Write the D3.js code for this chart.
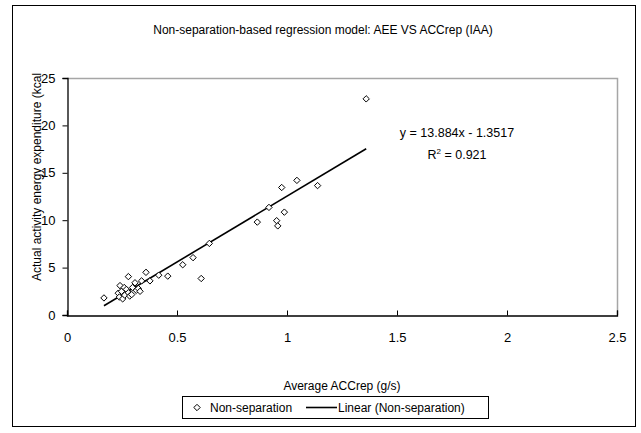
<!DOCTYPE html>
<html>
<head>
<meta charset="utf-8">
<script src="https://cdn.jsdelivr.net/npm/d3@7"></script>
<style>
  body { margin: 0; background: #fff; }
  svg { display: block; font-family: 'Liberation Sans', Arial, sans-serif; }
</style>
</head>
<body>
<svg id="chart" width="641" height="433"></svg>
<script>
'use strict';

// measured values (Average ACCrep g/s, Actual AEE kcal)
let accrep = [0.168, 0.233, 0.238, 0.241, 0.248, 0.253, 0.26, 0.262, 0.27, 0.279,
	0.279, 0.285, 0.294, 0.298, 0.309, 0.315, 0.324, 0.332, 0.339, 0.359,
	0.377, 0.417, 0.458, 0.526, 0.573, 0.61, 0.647, 0.865, 0.918, 0.953,
	0.958, 0.976, 0.988, 1.045, 1.139, 1.36];
let aee = [1.8, 2.3, 1.9, 3.1, 2.5, 1.7, 2.9, 2.1, 2.7, 4.05,
	2.35, 2.0, 2.15, 2.9, 3.4, 2.6, 2.8, 2.5, 3.6, 4.5,
	3.6, 4.2, 4.1, 5.3, 6.05, 3.85, 7.55, 9.8, 11.35, 9.95,
	9.4, 13.45, 10.85, 14.2, 13.65, 22.8];

let xTicks = [0, 0.5, 1, 1.5, 2, 2.5];
let yTicks = [0, 5, 10, 15, 20, 25];

// trendline coefficients as printed on the chart
let slope = 13.884;
let intercept = -1.3517;
let rSquared = 0.921;

let svg = d3.select('#chart');

let plot = {left: 67, top: 78, right: 617, bottom: 315};

let x = d3.scaleLinear().domain([0, 2.5]).range([plot.left, plot.right]);
let y = d3.scaleLinear().domain([0, 25]).range([plot.bottom, plot.top]);

// chart frame
svg.append('rect')
	.attr('x', 12.5).attr('y', 5.5)
	.attr('width', 623).attr('height', 421)
	.attr('fill', '#fff')
	.attr('stroke', '#000')
	.attr('stroke-width', 1);

svg.append('text')
	.attr('x', 323).attr('y', 34)
	.attr('text-anchor', 'middle')
	.attr('font-size', 12)
	.text('Non-separation-based regression model: AEE VS ACCrep (IAA)');

// plot area border (grey top & right)
svg.append('path')
	.attr('d', `M${plot.left},${plot.top + 0.5}H${plot.right + 0.5}V${plot.bottom}`)
	.attr('fill', 'none')
	.attr('stroke', '#a6a6a6')
	.attr('stroke-width', 1.5);

let xAxis = svg.append('g')
	.attr('transform', `translate(0,${plot.bottom + 0.5})`)
	.call(d3.axisBottom(x).tickValues(xTicks).tickSize(-5).tickPadding(17)
		.tickFormat(d3.format('')));

let yAxis = svg.append('g')
	.attr('transform', `translate(${plot.left + 0.5},0)`)
	.call(d3.axisLeft(y).tickValues(yTicks).tickSize(5).tickPadding(7));

[xAxis, yAxis].forEach(function(g) {
	g.select('.domain').attr('stroke', '#000').attr('stroke-width', 1.3);
	g.selectAll('.tick line').attr('stroke', '#000');
	g.selectAll('.tick text')
		.attr('font-family', "'Liberation Sans', Arial, sans-serif")
		.attr('font-size', 13)
		.attr('fill', '#000');
});

svg.append('text')
	.attr('x', 342).attr('y', 390)
	.attr('text-anchor', 'middle')
	.attr('font-size', 12)
	.text('Average ACCrep (g/s)');

svg.append('text')
	.attr('transform', 'translate(41,177) rotate(-90)')
	.attr('text-anchor', 'middle')
	.attr('font-size', 12)
	.text('Actual activity energy expenditure (kcal');

// linear trendline over the data range
let xs = d3.extent(accrep);
svg.append('line')
	.attr('x1', x(xs[0])).attr('y1', y(slope * xs[0] + intercept))
	.attr('x2', x(xs[1])).attr('y2', y(slope * xs[1] + intercept))
	.attr('stroke', '#000')
	.attr('stroke-width', 1.6);

let diamond = d3.symbol().type(d3.symbolDiamond2).size(26);

svg.append('g')
	.selectAll('path')
	.data(accrep.map((v, i) => [v, aee[i]]))
	.join('path')
	.attr('d', diamond)
	.attr('transform', d => `translate(${x(d[0])},${y(d[1])})`)
	.attr('fill', '#fff')
	.attr('stroke', '#000')
	.attr('stroke-width', 1);

// equation label
let eq = svg.append('g').attr('font-size', 12.5).attr('text-anchor', 'middle');
eq.append('text')
	.attr('x', 457).attr('y', 137)
	.text(`y = ${slope}x - ${Math.abs(intercept)}`);
let r2 = eq.append('text').attr('x', 457).attr('y', 159);
r2.append('tspan').text('R');
r2.append('tspan').attr('font-size', 8).attr('dy', -5).text('2');
r2.append('tspan').attr('dy', 5).text(` = ${rSquared}`);

// legend
let legend = svg.append('g');
legend.append('rect')
	.attr('x', 182.5).attr('y', 396.5)
	.attr('width', 306).attr('height', 22)
	.attr('fill', '#fff')
	.attr('stroke', '#000');
legend.append('path')
	.attr('d', diamond)
	.attr('transform', 'translate(197,407.5)')
	.attr('fill', '#fff')
	.attr('stroke', '#000');
legend.append('text')
	.attr('x', 210).attr('y', 412)
	.attr('font-size', 12)
	.text('Non-separation');
legend.append('line')
	.attr('x1', 306).attr('x2', 337)
	.attr('y1', 407.5).attr('y2', 407.5)
	.attr('stroke', '#000')
	.attr('stroke-width', 1.6);
legend.append('text')
	.attr('x', 338).attr('y', 412)
	.attr('font-size', 12)
	.text('Linear (Non-separation)');
</script>
</body>
</html>
